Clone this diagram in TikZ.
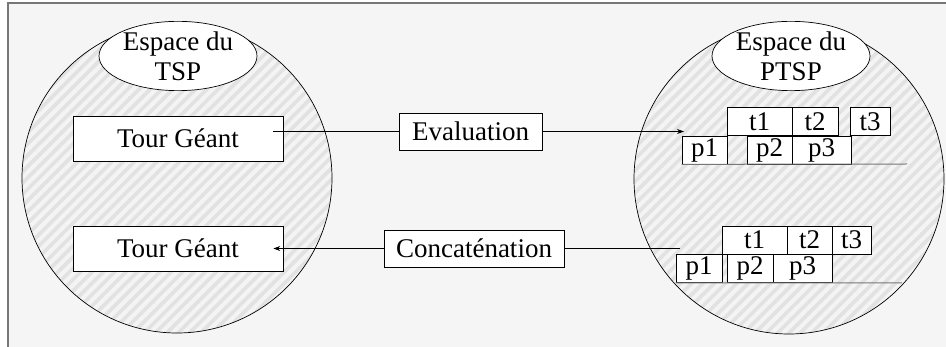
\documentclass[tikz,border=0pt]{standalone}
\usepackage{fontspec}
\setmainfont{Liberation Serif}
\usetikzlibrary{shapes.geometric,arrows.meta,patterns.meta}
\definecolor{fond}{HTML}{F5F5F5}
\definecolor{hachfond}{HTML}{E2E2E2}
\definecolor{hachtrait}{HTML}{F4F4F4}
\definecolor{cadre}{HTML}{777777}
\newcommand{\txt}{\fontsize{27}{30}\selectfont}

\tikzset{
	espace/.style={circle,draw=black,line width=0.7pt,minimum size=310pt,inner sep=0pt,
		preaction={fill=hachfond},
		pattern={Lines[angle=45,distance=8pt,line width=4pt]},pattern color=hachtrait},
	titre/.style={ellipse,draw=black,line width=0.7pt,fill=white,minimum width=158pt,
		minimum height=65pt,inner sep=0pt,align=center,font=\txt},
	boite/.style={draw=black,line width=0.7pt,fill=white,inner sep=0pt,font=\txt},
	case/.style={draw=black,line width=0.7pt,fill=white,minimum height=28pt,inner sep=0pt,font=\txt},
	fleche/.style={line width=0.7pt,-{Stealth[length=7pt,width=5pt]}}
}

\begin{document}
\begin{tikzpicture}[x=1pt,y=-1pt]
	\useasboundingbox (0,0) rectangle (946,347);
	\fill[white] (0,0) rectangle (946,347);
	\fill[fond] (8,3) rectangle (946,347);
	\draw[cadre,line width=1.5pt] (8,347)--(8,3)--(946,3);
	
	%espaces
	\node[espace] (tsp) at (177,178) {};
	\node[espace] (ptsp) at (789,179) {};
	\node[titre] (ttsp) at (178,56) {Espace du\\TSP};
	\node[titre] (tptsp) at (791,56) {Espace du\\PTSP};
	
	%tours geants
	\node[boite,minimum width=210pt,minimum height=45pt] (tg1) at (178,138.5) {Tour Géant};
	\node[boite,minimum width=210pt,minimum height=45pt] (tg2) at (178,248.5) {Tour Géant};
	
	%operations
	\node[boite,minimum width=143pt,minimum height=37pt] (eval) at (470.5,131.5) {Evaluation};
	\node[boite,minimum width=180pt,minimum height=37pt] (concat) at (474,248.5) {Concaténation};
	
	%solution du haut
	\node[case,minimum width=65pt] (ta1) at (759.5,121.5) {t1};
	\node[case,minimum width=46pt] (ta2) at (815,121.5) {t2};
	\node[case,minimum width=40pt] (ta3) at (870,121.5) {t3};
	\node[case,minimum width=45pt] (pa1) at (704.5,150) {p1};
	\node[case,minimum width=45pt] (pa2) at (769.5,150) {p2};
	\node[case,minimum width=59pt] (pa3) at (821.5,150) {p3};
	\coordinate (fina) at (907,164);
	\draw[cadre,line width=1pt] (pa1.south west) -- (fina);
	
	%solution du bas
	\node[case,minimum width=65pt] (tb1) at (754.5,240) {t1};
	\node[case,minimum width=45pt] (tb2) at (809.5,240) {t2};
	\node[case,minimum width=39pt] (tb3) at (851.5,240) {t3};
	\node[case,minimum width=46pt] (pb1) at (699,268.5) {p1};
	\node[case,minimum width=46pt] (pb2) at (750,268.5) {p2};
	\node[case,minimum width=59pt] (pb3) at (802.5,268.5) {p3};
	\coordinate (finb) at (902,283);
	\draw[cadre,line width=1pt] (pb1.south west) -- (finb);
	
	%fleches
	\coordinate (cible) at (684,131.5);
	\coordinate (source) at (680,248.5);
	\draw[line width=0.7pt] ([xshift=-10pt]tg1.east |- eval.west) -- (eval.west);
	\draw[fleche] (eval.east) -- (cible);
	\draw[line width=0.7pt] (source) -- (concat.east);
	\draw[fleche] (concat.west) -- ([xshift=-10pt]tg2.east);
\end{tikzpicture}
\end{document}
